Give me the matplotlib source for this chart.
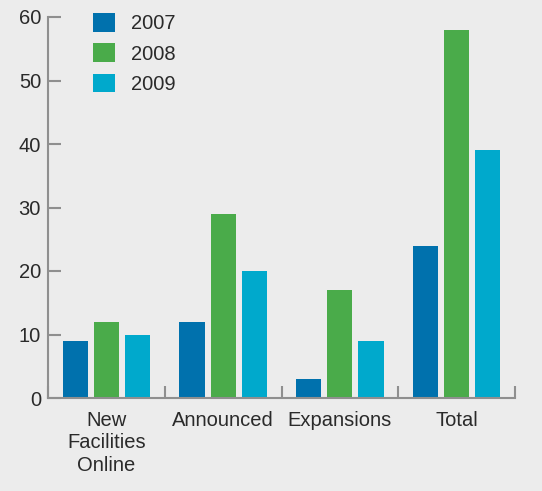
import numpy as np
import matplotlib.pyplot as plt

# ---------- data ----------
categories = ["New\nFacilities\nOnline", "Announced", "Expansions", "Total"]
years = ["2007", "2008", "2009"]
vals_2007 = [9, 12, 3, 24]
vals_2008 = [12, 29, 17, 58]
vals_2009 = [10, 20, 9, 39]

colors = ["#0071ad", "#4aab4a", "#00a9cc"]
bg = "#ececec"
axis_col = "#8f8f8f"
text_col = "#2a2a2a"

plt.rcParams["font.family"] = ["Liberation Sans", "DejaVu Sans"]

# ---------- plot ----------
fig = plt.figure(figsize=(5.42, 4.91), dpi=100, facecolor=bg)
ax = fig.add_axes([48 / 542, 93 / 491, (515 - 48) / 542, (398 - 17) / 491])
ax.set_facecolor(bg)

x = np.arange(len(categories))
width = 0.215
step = 0.267
series = [vals_2007, vals_2008, vals_2009]
for i, (vals, year) in enumerate(zip(series, years)):
    ax.bar(x + (i - 1) * step, vals, width, color=colors[i], label=year, zorder=2)

ax.set_xlim(-0.5, len(categories) - 0.5)
ax.set_ylim(0, 60)

for side in ["top", "right"]:
    ax.spines[side].set_visible(False)
for side in ["left", "bottom"]:
    ax.spines[side].set_color(axis_col)
    ax.spines[side].set_linewidth(1.5)

ax.set_yticks(range(0, 61, 10))
ax.tick_params(axis="y", direction="in", length=9, width=1.5, color=axis_col,
               labelsize=14.5, labelcolor=text_col, pad=5)

# category labels as minor ticks, separators as major ticks
ax.set_xticks(np.arange(-0.5, len(categories), 1.0))
ax.set_xticklabels([])
ax.tick_params(axis="x", which="major", direction="in", length=9, width=1.5, color=axis_col)
ax.set_xticks(x, minor=True)
ax.set_xticklabels(categories, minor=True)
ax.tick_params(axis="x", which="minor", length=0, labelsize=14.5, labelcolor=text_col, pad=9)
for lbl in ax.get_xticklabels(minor=True):
    lbl.set_linespacing(1.25)

leg = ax.legend(loc="upper left", bbox_to_anchor=(83 / 542, 1 - 3 / 491),
                bbox_transform=fig.transFigure, frameon=False, borderpad=0,
                fontsize=14.5, handlelength=1.1, handleheight=1.05,
                handletextpad=0.8, labelspacing=0.5)
for t in leg.get_texts():
    t.set_color(text_col)

fig.savefig("out.png", dpi=100, facecolor=bg)
